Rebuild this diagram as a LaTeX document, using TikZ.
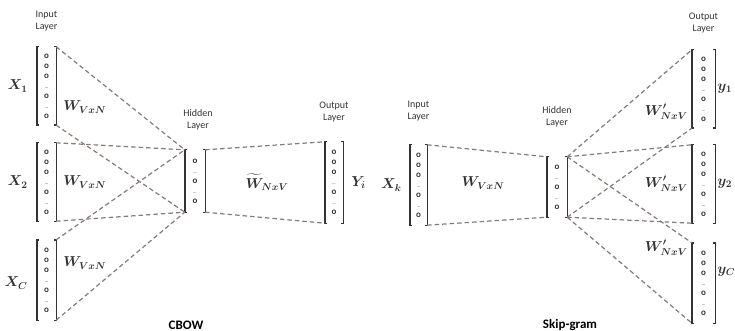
\documentclass[tikz,border=0pt]{standalone}
\usepackage{amsmath}
\usepackage{fontspec}
\newfontfamily\lblfont{Carlito}
\usetikzlibrary{positioning}

\definecolor{dashgray}{RGB}{135,122,118}
\newcommand{\dd}{{\fontsize{4}{4}\selectfont ...}}
\newcommand{\incol}{o\\o\\o\\\dd\\o\\\dd\\o}
\newcommand{\hidcol}{o\\\dd\\o\\\dd\\o}

\begin{document}
\begin{tikzpicture}[
    x=1pt, y=-1pt,
    vec/.style={minimum width=19pt, minimum height=78pt, inner sep=0pt, align=center,
      font=\lblfont\bfseries\fontsize{9}{10}\selectfont, text=black!80},
    brk/.style={line width=1.4pt, draw=black!80},
    con/.style={dash pattern=on 4.5pt off 3pt, line width=1.2pt, draw=dashgray},
    lbl/.style={font=\lblfont\fontsize{10}{12}\selectfont, align=center, inner sep=0pt, text=black!80},
    ttl/.style={font=\lblfont\bfseries\fontsize{13}{13}\selectfont},
    mth/.style={font=\boldmath\fontsize{14}{14}\selectfont, inner sep=0pt, text=black!80},
  ]
  \useasboundingbox (0,0) rectangle (735,331);

  % CBOW
  \node[vec] (x1) at (46.5,86) {\incol};
  \node[vec] (x2) at (46.5,182) {\incol};
  \node[vec, minimum height=80pt] (xc) at (46.5,280) {\incol};
  \node[vec, minimum width=20pt, minimum height=62pt] (h1) at (195,181) {\hidcol};
  \node[vec, minimum width=18pt, minimum height=81pt] (o1) at (334,182.5) {\incol};

  % Skip-gram
  \node[vec, minimum width=17pt, minimum height=80pt] (xk) at (418.5,185) {\incol};
  \node[vec, minimum width=20pt, minimum height=60pt] (h2) at (557,187) {\hidcol};
  \node[vec, minimum width=23pt] (y1) at (703.5,89) {\incol};
  \node[vec, minimum width=23pt] (y2) at (703.5,184) {\incol};
  \node[vec, minimum width=23pt, minimum height=80pt] (yc) at (703.5,283) {\incol};

  \foreach \v in {x1,x2,xc,h1,o1,xk,h2,y1,y2,yc} {
    \draw[brk] ([xshift=2pt]\v.north west) -- (\v.north west) -- (\v.south west) -- ([xshift=2pt]\v.south west);
    \draw[brk] ([xshift=-2pt]\v.north east) -- (\v.north east) -- (\v.south east) -- ([xshift=-2pt]\v.south east);
  }

  \foreach \v in {x1,x2,xc} {
    \draw[con] (\v.north east) -- (h1.north west);
    \draw[con] (\v.south east) -- (h1.south west);
  }
  \draw[con] (h1.north east) -- (o1.north west);
  \draw[con] (h1.south east) -- (o1.south west);
  \draw[con] (xk.north east) -- (h2.north west);
  \draw[con] (xk.south east) -- (h2.south west);
  \foreach \v in {y1,y2,yc} {
    \draw[con] (h2.north east) -- (\v.north west);
    \draw[con] (h2.south east) -- (\v.south west);
  }

  % layer labels
  \node[lbl, above=15pt of x1] (lin1) {Input\\Layer};
  \node[lbl, above=19pt of h1, xshift=3pt] (lhid1) {Hidden\\Layer};
  \node[lbl, above=19pt of o1] (lout1) {Output\\Layer};
  \node[lbl, above=23pt of xk] (lin2) {Input\\Layer};
  \node[lbl, above=29pt of h2] (lhid2) {Hidden\\Layer};
  \node[lbl, above=16pt of y1] (lout2) {Output\\Layer};

  % vectors and weights
  \node[mth, left=9pt of x1] (tx1) {$X_1$};
  \node[mth, left=9pt of x2] (tx2) {$X_2$};
  \node[mth, left=9pt of xc, yshift=-3pt] (txc) {$X_C$};
  \node[mth, right=7pt of x1, yshift=-21pt] (w1) {$W_{VxN}$};
  \node[mth, right=7pt of x2] (w2) {$W_{VxN}$};
  \node[mth, right=7pt of xc, yshift=17pt] (w3) {$W_{VxN}$};
  \node[mth] (wt) at (267,182) {$\widetilde{W}_{NxV}$};
  \node[mth, right=8pt of o1] (tyi) {$Y_i$};

  \node[mth, left=8pt of xk] (txk) {$X_k$};
  \node[mth] (wk) at (483,183) {$W_{VxN}$};
  \node[mth, right=2pt of y1] (ty1) {$y_1$};
  \node[mth, right=2pt of y2] (ty2) {$y_2$};
  \node[mth, right=2pt of yc, yshift=11pt] (tyc) {$y_C$};
  \node[mth, left=4pt of y1, yshift=-23pt] (wp1) {$W'_{NxV}$};
  \node[mth, left=4pt of y2] (wp2) {$W'_{NxV}$};
  \node[mth, left=4pt of yc, yshift=35pt] (wp3) {$W'_{NxV}$};

  \node[ttl] (tcbow) at (186,325) {CBOW};
  \node[ttl] (tskip) at (570,325) {Skip-gram};
\end{tikzpicture}
\end{document}
